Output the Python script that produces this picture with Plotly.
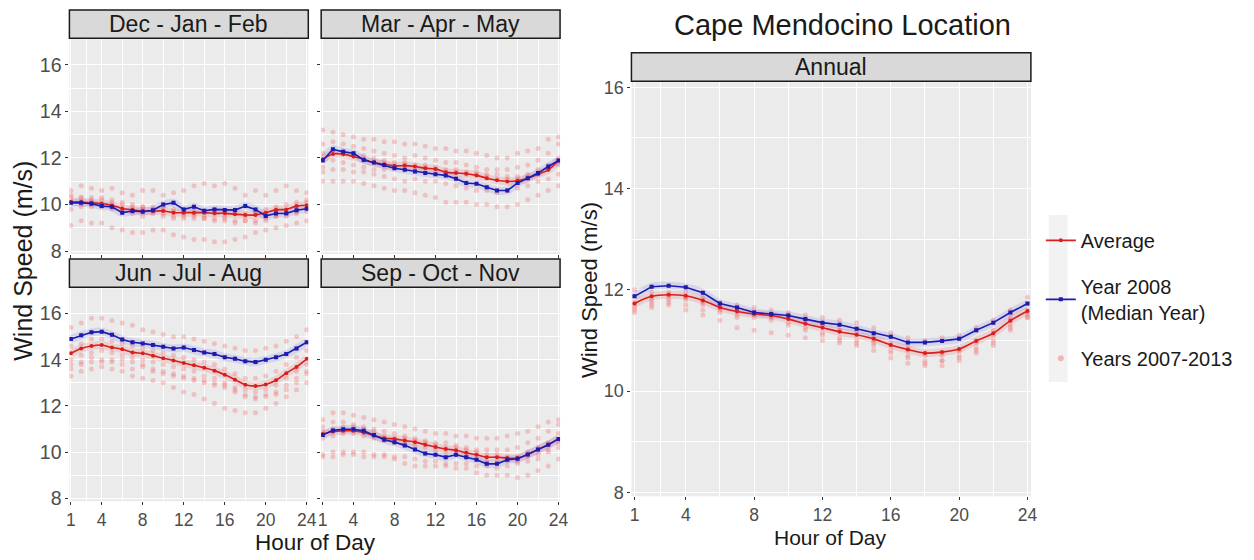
import plotly.graph_objects as go

W, H = 1254, 560
hours = list(range(1, 25))
x_ticks = [1, 4, 8, 12, 16, 20, 24]
x_minor = [2.5, 6, 10, 14, 18, 22]
y_ticks = [8, 10, 12, 14, 16]
y_minor = [9, 11, 13, 15]

# ---- Dec - Jan - Feb ----
djf_avg = [10.11, 10.11, 10.07, 10.04, 9.96, 9.83, 9.77, 9.72, 9.72, 9.72, 9.65, 9.65,
           9.65, 9.65, 9.62, 9.62, 9.58, 9.55, 9.55, 9.65, 9.77, 9.79, 9.93, 9.97]
djf_2008 = [10.07, 10.07, 10.03, 9.93, 9.90, 9.65, 9.72, 9.69, 9.75, 10.0, 10.07, 9.79,
            9.90, 9.73, 9.79, 9.76, 9.76, 9.93, 9.79, 9.51, 9.61, 9.62, 9.75, 9.82]
djf_years = [
    [10.6, 10.8, 10.7, 10.6, 10.7, 10.5, 10.4, 10.6, 10.6, 10.4, 10.5, 10.6, 10.8, 10.9, 10.8, 10.9, 10.7, 10.4, 10.6, 10.4, 10.6, 10.8, 10.6, 10.5],
    [9.1, 9.3, 9.2, 9.2, 9.0, 8.9, 8.8, 8.8, 8.9, 8.9, 8.7, 8.6, 8.5, 8.5, 8.4, 8.4, 8.5, 8.6, 8.8, 8.9, 9.0, 9.1, 9.2, 9.3],
    [10.3, 10.3, 10.2, 10.2, 10.1, 10.0, 9.9, 9.9, 9.8, 9.9, 9.8, 9.8, 9.7, 9.7, 9.8, 9.7, 9.7, 9.6, 9.6, 9.8, 9.9, 10.0, 10.1, 10.2],
    [9.8, 9.9, 9.9, 9.9, 9.8, 9.7, 9.6, 9.5, 9.6, 9.5, 9.4, 9.5, 9.4, 9.4, 9.3, 9.4, 9.3, 9.3, 9.2, 9.3, 9.5, 9.5, 9.6, 9.7],
    [10.1, 10.0, 10.1, 10.0, 9.9, 9.8, 9.7, 9.8, 9.7, 9.6, 9.5, 9.4, 9.5, 9.4, 9.4, 9.3, 9.2, 9.3, 9.3, 9.4, 9.5, 9.6, 9.7, 9.9],
    [10.4, 10.3, 10.3, 10.3, 10.2, 10.1, 10.0, 9.9, 9.9, 9.8, 9.7, 9.6, 9.6, 9.5, 9.6, 9.5, 9.6, 9.5, 9.6, 9.5, 9.7, 9.6, 9.9, 10.1],
]

# ---- Mar - Apr - May ----
mam_avg = [11.94, 12.17, 12.16, 12.06, 11.94, 11.80, 11.73, 11.66, 11.67, 11.63, 11.56, 11.52,
           11.39, 11.35, 11.32, 11.25, 11.13, 11.04, 10.99, 11.02, 11.13, 11.30, 11.49, 11.89]
mam_2008 = [11.89, 12.37, 12.26, 12.20, 11.91, 11.80, 11.70, 11.56, 11.49, 11.42, 11.35, 11.30,
            11.25, 11.11, 10.92, 10.89, 10.74, 10.60, 10.60, 10.92, 11.13, 11.35, 11.63, 11.89]
mam_years = [
    [13.2, 13.1, 13.0, 12.9, 12.8, 12.8, 12.7, 12.7, 12.6, 12.6, 12.5, 12.4, 12.4, 12.3, 12.3, 12.2, 12.1, 12.0, 12.0, 12.2, 12.3, 12.4, 12.8, 12.9],
    [11.0, 11.0, 11.0, 11.0, 10.9, 10.8, 10.7, 10.6, 10.6, 10.5, 10.4, 10.3, 10.1, 10.1, 10.1, 10.0, 10.0, 9.9, 9.9, 10.0, 10.2, 10.4, 10.6, 10.8],
    [12.6, 12.7, 12.6, 12.5, 12.4, 12.3, 12.2, 12.1, 12.0, 12.1, 12.0, 11.9, 11.8, 11.8, 11.7, 11.6, 11.5, 11.5, 11.5, 11.6, 11.7, 11.9, 12.2, 12.6],
    [11.4, 11.5, 11.5, 11.4, 11.4, 11.3, 11.2, 11.1, 11.0, 11.1, 11.0, 11.0, 10.9, 10.8, 10.7, 10.6, 10.6, 10.5, 10.6, 10.7, 10.8, 11.0, 11.1, 11.3],
    [12.2, 12.3, 12.3, 12.2, 12.1, 12.0, 11.9, 11.8, 11.8, 11.7, 11.7, 11.6, 11.5, 11.4, 11.3, 11.3, 11.2, 11.1, 11.1, 11.2, 11.3, 11.5, 11.7, 12.0],
    [11.6, 11.9, 11.8, 11.7, 11.6, 11.5, 11.5, 11.6, 11.7, 11.6, 11.6, 11.5, 11.4, 11.5, 11.4, 11.4, 11.3, 11.3, 11.2, 11.1, 11.2, 11.3, 11.5, 11.7],
]

# ---- Jun - Jul - Aug ----
jja_avg = [14.28, 14.49, 14.60, 14.64, 14.53, 14.46, 14.32, 14.28, 14.18, 14.07, 13.97, 13.86,
           13.76, 13.65, 13.53, 13.35, 13.14, 12.92, 12.86, 12.93, 13.11, 13.42, 13.69, 14.04]
jja_2008 = [14.90, 15.06, 15.19, 15.22, 15.08, 14.88, 14.76, 14.71, 14.64, 14.56, 14.49, 14.53,
            14.42, 14.32, 14.25, 14.11, 14.04, 13.94, 13.90, 14.00, 14.11, 14.25, 14.49, 14.76]
jja_years = [
    [15.4, 15.6, 15.8, 15.8, 15.7, 15.6, 15.5, 15.3, 15.2, 15.1, 15.0, 15.0, 14.9, 14.8, 14.7, 14.6, 14.5, 14.4, 14.4, 14.5, 14.6, 14.8, 15.0, 15.3],
    [13.3, 13.5, 13.6, 13.7, 13.6, 13.5, 13.3, 13.2, 13.1, 13.0, 12.8, 12.6, 12.5, 12.3, 12.1, 11.9, 11.8, 11.7, 11.7, 11.9, 12.1, 12.4, 12.7, 13.0],
    [14.0, 14.2, 14.3, 14.4, 14.3, 14.2, 14.1, 14.0, 13.9, 13.8, 13.7, 13.6, 13.5, 13.3, 13.2, 13.0, 12.8, 12.7, 12.6, 12.7, 12.9, 13.2, 13.5, 13.8],
    [14.6, 14.7, 14.9, 14.9, 14.8, 14.7, 14.6, 14.5, 14.4, 14.3, 14.2, 14.1, 14.0, 13.9, 13.8, 13.6, 13.4, 13.2, 13.2, 13.3, 13.5, 13.8, 14.1, 14.4],
    [13.8, 13.9, 14.1, 14.0, 13.9, 13.8, 13.6, 13.7, 13.5, 13.4, 13.3, 13.2, 13.1, 13.0, 12.9, 12.8, 12.6, 12.4, 12.3, 12.5, 12.6, 12.9, 13.2, 13.5],
    [13.6, 13.8, 13.9, 13.9, 14.0, 14.0, 13.9, 13.8, 13.6, 13.5, 13.4, 13.3, 13.2, 13.1, 13.0, 12.9, 12.7, 12.5, 12.4, 12.4, 12.5, 12.7, 13.0, 13.4],
]

# ---- Sep - Oct - Nov ----
son_avg = [10.78, 10.89, 10.92, 10.92, 10.85, 10.71, 10.60, 10.57, 10.50, 10.43, 10.32, 10.22,
           10.13, 10.08, 9.97, 9.88, 9.78, 9.78, 9.74, 9.74, 9.90, 10.11, 10.32, 10.57]
son_2008 = [10.74, 10.94, 10.99, 10.99, 10.92, 10.74, 10.53, 10.43, 10.29, 10.11, 9.94, 9.88,
            9.78, 9.88, 9.78, 9.67, 9.49, 9.49, 9.67, 9.71, 9.90, 10.11, 10.32, 10.57]
son_years = [
    [11.4, 11.7, 11.7, 11.6, 11.5, 11.4, 11.3, 11.2, 11.1, 11.0, 10.9, 10.8, 10.8, 10.7, 10.7, 10.6, 10.6, 10.6, 10.7, 10.8, 10.9, 11.1, 11.3, 11.4],
    [9.8, 9.8, 9.9, 9.9, 9.8, 9.8, 9.8, 9.7, 9.5, 9.4, 9.4, 9.4, 9.4, 9.3, 9.3, 9.1, 9.0, 9.0, 9.0, 8.9, 9.0, 9.2, 9.4, 9.7],
    [11.1, 11.3, 11.3, 11.2, 11.1, 11.0, 10.9, 10.8, 10.7, 10.6, 10.5, 10.4, 10.4, 10.3, 10.2, 10.1, 10.1, 10.1, 10.1, 10.2, 10.4, 10.6, 10.9, 11.2],
    [10.6, 10.7, 10.8, 10.8, 10.7, 10.6, 10.5, 10.4, 10.4, 10.3, 10.2, 10.1, 10.0, 9.9, 9.8, 9.7, 9.6, 9.6, 9.6, 9.6, 9.8, 9.9, 10.1, 10.4],
    [10.9, 11.0, 11.1, 11.1, 11.0, 10.9, 10.7, 10.6, 10.6, 10.5, 10.4, 10.3, 10.2, 10.2, 10.1, 10.0, 9.9, 9.9, 9.8, 9.8, 10.0, 10.2, 10.4, 10.8],
    [9.9, 10.0, 10.0, 10.0, 10.0, 9.9, 9.9, 9.8, 9.8, 9.7, 9.6, 9.6, 9.5, 9.5, 9.5, 9.4, 9.4, 9.3, 9.4, 9.5, 9.6, 9.7, 10.0, 10.2],
]

# ---- Annual ----
ann_avg = [11.73, 11.87, 11.90, 11.88, 11.79, 11.65, 11.57, 11.52, 11.49, 11.42, 11.33, 11.25,
           11.17, 11.11, 11.03, 10.91, 10.82, 10.75, 10.77, 10.83, 10.99, 11.14, 11.39, 11.58]
ann_2008 = [11.87, 12.06, 12.08, 12.05, 11.94, 11.73, 11.65, 11.55, 11.52, 11.49, 11.42, 11.35,
            11.31, 11.23, 11.14, 11.07, 10.96, 10.96, 10.99, 11.03, 11.20, 11.35, 11.55, 11.73]
ann_years = [
    [12.0, 11.95, 11.95, 11.95, 11.85, 11.75, 11.7, 11.65, 11.6, 11.55, 11.5, 11.45, 11.4, 11.35, 11.25, 11.15, 11.05, 11.0, 11.05, 11.1, 11.25, 11.4, 11.6, 11.85],
    [11.55, 11.65, 11.7, 11.6, 11.5, 11.4, 11.25, 11.2, 11.15, 11.1, 11.05, 11.0, 10.95, 10.9, 10.8, 10.65, 10.55, 10.5, 10.5, 10.6, 10.75, 10.9, 11.2, 11.45],
    [11.65, 11.8, 11.85, 11.8, 11.75, 11.6, 11.5, 11.5, 11.45, 11.35, 11.25, 11.15, 11.05, 11.0, 10.95, 10.8, 10.7, 10.6, 10.6, 10.7, 10.85, 11.0, 11.3, 11.5],
    [11.7, 11.75, 11.8, 11.85, 11.7, 11.65, 11.6, 11.55, 11.5, 11.45, 11.35, 11.3, 11.2, 11.15, 11.05, 10.95, 10.85, 10.75, 10.7, 10.8, 11.0, 11.2, 11.45, 11.6],
    [11.6, 11.7, 11.75, 11.7, 11.6, 11.55, 11.45, 11.45, 11.4, 11.3, 11.2, 11.1, 11.0, 10.95, 10.9, 10.75, 10.65, 10.55, 10.6, 10.65, 10.8, 10.95, 11.25, 11.45],
    [11.75, 11.85, 11.9, 11.85, 11.8, 11.7, 11.6, 11.55, 11.5, 11.5, 11.4, 11.3, 11.2, 11.1, 11.0, 10.9, 10.8, 10.7, 10.75, 10.8, 10.95, 11.1, 11.4, 11.55],
]

panel_titles = ["Dec - Jan - Feb", "Mar - Apr - May", "Jun - Jul - Aug", "Sep - Oct - Nov", "Annual"]
legend_names = ["Average", "Year 2008<br>(Median Year)", "Years 2007-2013"]

RED = "#D91E1E"
BLUE = "#1C1CB0"
PINK = "rgba(240,110,110,0.33)"
FONT = "Liberation Sans, Arial, sans-serif"

def px_x(p):
    return p / W

def px_y(p):
    return 1 - p / H

# pixel boxes of panels: (left, right, top, bottom)
boxes = [
    (67, 308, 35, 255),
    (321, 562, 35, 255),
    (67, 308, 290, 508),
    (321, 562, 290, 508),
    (634, 1037, 79, 503),
]
strip_h = 29
yranges = [[7.87, 17.1]] * 4 + [[7.92, 16.1]]
xranges = [[0.85, 24.15]] * 4 + [[0.82, 24.2]]

panels = [
    (djf_avg, djf_2008, djf_years),
    (mam_avg, mam_2008, mam_years),
    (jja_avg, jja_2008, jja_years),
    (son_avg, son_2008, son_years),
    (ann_avg, ann_2008, ann_years),
]

fig = go.Figure()
for i, (avg, y08, years) in enumerate(panels):
    ax = "" if i == 0 else str(i + 1)
    xa, ya = "x" + ax, "y" + ax
    show = (i == 4)
    xs, ys = [], []
    for yr in years + [y08]:
        xs += hours
        ys += yr
    fig.add_trace(go.Scatter(x=xs, y=ys, mode="markers", xaxis=xa, yaxis=ya,
                             marker=dict(color=PINK, size=5), name=legend_names[2],
                             showlegend=False, hoverinfo="skip"))
    fig.add_trace(go.Scatter(x=hours, y=avg, mode="lines", xaxis=xa, yaxis=ya,
                             line=dict(color="rgba(230,60,60,0.15)", width=8, shape="spline"),
                             showlegend=False, hoverinfo="skip"))
    fig.add_trace(go.Scatter(x=hours, y=y08, mode="lines", xaxis=xa, yaxis=ya,
                             line=dict(color="rgba(60,60,230,0.12)", width=8, shape="spline"),
                             showlegend=False, hoverinfo="skip"))
    fig.add_trace(go.Scatter(x=hours, y=avg, mode="lines+markers", xaxis=xa, yaxis=ya,
                             line=dict(color=RED, width=1.6, shape="spline"),
                             marker=dict(color=RED, size=4),
                             name=legend_names[0], showlegend=show, legendrank=1,
                             legendgroup="a"))
    fig.add_trace(go.Scatter(x=hours, y=y08, mode="lines+markers", xaxis=xa, yaxis=ya,
                             line=dict(color=BLUE, width=1.6),
                             marker=dict(color=BLUE, size=4, symbol="square"),
                             name=legend_names[1], showlegend=show, legendrank=2,
                             legendgroup="b"))
    if show:
        fig.add_trace(go.Scatter(x=[None], y=[None], mode="markers", xaxis=xa, yaxis=ya,
                                 marker=dict(color="rgba(240,110,110,0.45)", size=6),
                                 name=legend_names[2], showlegend=True, legendrank=3,
                                 legendgroup="c"))

layout = dict(
    width=W, height=H,
    margin=dict(l=0, r=0, t=0, b=0, pad=0),
    paper_bgcolor="white",
    plot_bgcolor="#EBEBEB",
    font=dict(family=FONT, size=18, color="#4D4D4D"),
    legend=dict(x=px_x(1047), y=px_y(221), xanchor="left", yanchor="top",
                font=dict(size=20, color="#1A1A1A", family=FONT),
                bgcolor="rgba(0,0,0,0)", tracegroupgap=17, itemwidth=30),
    showlegend=True,
)

shapes = []
annotations = []
for i, (l, r, t, b) in enumerate(boxes):
    ax = "" if i == 0 else str(i + 1)
    left_col = i in (0, 2, 4)
    bottom_row = i in (2, 3, 4)
    ysize = 18 if i == 4 else 19.5
    xsize = 17.5
    layout["xaxis" + ax] = dict(
        domain=[px_x(l), px_x(r)], anchor="y" + ax, range=xranges[i],
        tickvals=x_ticks, ticktext=[str(v) for v in x_ticks],
        showticklabels=bottom_row, ticks="outside", ticklen=3, tickcolor="#333333",
        showgrid=True, gridcolor="white", gridwidth=1.2, zeroline=False,
        minor=dict(tickvals=x_minor, showgrid=True, gridcolor="white", gridwidth=0.5, ticks=""),
        tickfont=dict(size=xsize, color="#4D4D4D"), showline=False,
    )
    layout["yaxis" + ax] = dict(
        domain=[px_y(b), px_y(t)], anchor="x" + ax, range=yranges[i],
        tickvals=y_ticks, ticktext=[str(v) for v in y_ticks],
        showticklabels=left_col, ticks="outside", ticklen=3, tickcolor="#333333",
        showgrid=True, gridcolor="white", gridwidth=1.2, zeroline=False,
        minor=dict(tickvals=y_minor, showgrid=True, gridcolor="white", gridwidth=0.5, ticks=""),
        tickfont=dict(size=ysize, color="#4D4D4D"), showline=False,
    )
    shapes.append(dict(type="rect", xref="paper", yref="paper",
                       x0=px_x(l), x1=px_x(r), y0=px_y(t - 1), y1=px_y(t - 1 - strip_h),
                       fillcolor="#D9D9D9", line=dict(color="#1A1A1A", width=1.5), layer="above"))
    annotations.append(dict(text=panel_titles[i], xref="paper", yref="paper",
                            x=px_x((l + r) / 2), y=px_y(t - 1 - strip_h / 2),
                            xanchor="center", yanchor="middle", showarrow=False,
                            font=dict(size=23, color="#1A1A1A", family=FONT)))

# legend key background
shapes.append(dict(type="rect", xref="paper", yref="paper",
                   x0=px_x(1055), x1=px_x(1074), y0=px_y(215), y1=px_y(386),
                   fillcolor="#F2F2F2", line=dict(width=0), layer="below"))

annotations += [
    dict(text="Wind Speed (m/s)", xref="paper", yref="paper", x=px_x(20), y=px_y(262),
         textangle=-90, showarrow=False, xanchor="center", yanchor="middle",
         font=dict(size=25, color="#1A1A1A", family=FONT)),
    dict(text="Hour of Day", xref="paper", yref="paper", x=px_x(315), y=px_y(550),
         showarrow=False, xanchor="center", yanchor="middle",
         font=dict(size=22.5, color="#1A1A1A", family=FONT)),
    dict(text="Wind Speed (m/s)", xref="paper", yref="paper", x=px_x(591), y=px_y(292),
         textangle=-90, showarrow=False, xanchor="center", yanchor="middle",
         font=dict(size=22, color="#1A1A1A", family=FONT)),
    dict(text="Hour of Day", xref="paper", yref="paper", x=px_x(835), y=px_y(545),
         showarrow=False, xanchor="center", yanchor="middle",
         font=dict(size=21, color="#1A1A1A", family=FONT)),
    dict(text="Cape Mendocino Location", xref="paper", yref="paper", x=px_x(847), y=px_y(20),
         showarrow=False, xanchor="center", yanchor="middle",
         font=dict(size=29, color="#1A1A1A", family=FONT)),
]
layout["shapes"] = shapes
layout["annotations"] = annotations
fig.update_layout(**layout)
fig.write_html("out.html")
